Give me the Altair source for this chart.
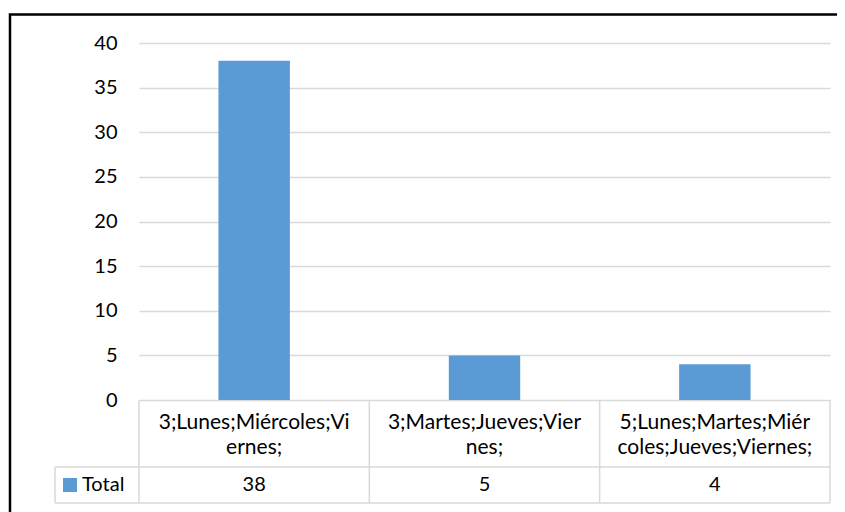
import altair as alt
import pandas as pd

categories = ["3;Lunes;Miércoles;Viernes;", "3;Martes;Jueves;Viernes;",
              "5;Lunes;Martes;Miércoles;Jueves;Viernes;"]
wrapped_labels = ["3;Lunes;Miércoles;Vi\nernes;", "3;Martes;Jueves;Vier\nnes;",
                  "5;Lunes;Martes;Miér\ncoles;Jueves;Viernes;"]
values = [38, 5, 4]
series_name = "Total"
y_ticks = [0, 5, 10, 15, 20, 25, 30, 35, 40]

FONT = "Lato"
FS = 20
BLUE = "#5B9BD5"
GRID = "#d9d9d9"

df = pd.DataFrame({"cat": categories, "label": wrapped_labels, "value": values})
one = alt.Data(values=[{"k": 1}])

xscale = alt.Scale(domain=categories, paddingInner=0, paddingOuter=0)
X = alt.X("cat:N", scale=xscale, axis=None, sort=categories)

bars = alt.Chart(df).mark_bar(width=alt.RelativeBandSize(0.31), color=BLUE).encode(
    x=X,
    y=alt.Y("value:Q", scale=alt.Scale(domain=[0, 40], nice=False),
            axis=alt.Axis(values=y_ticks, title=None, grid=True, gridColor=GRID,
                          gridWidth=1.5, domain=False, ticks=False, labelPadding=22,
                          labelFont=FONT, labelFontSize=FS, labelColor="#000000")),
)

vlines = alt.Chart(df).mark_rule(color=GRID, strokeWidth=1.5).encode(
    x=alt.X("cat:N", scale=xscale, axis=None, sort=categories, bandPosition=0),
    y=alt.value(357), y2=alt.value(460),
)
vline_end = alt.Chart(df).transform_filter(
    alt.datum.cat == categories[-1]
).mark_rule(color=GRID, strokeWidth=1.5).encode(
    x=alt.X("cat:N", scale=xscale, axis=None, sort=categories, bandPosition=1),
    y=alt.value(357), y2=alt.value(460),
)

hline1 = alt.Chart(one).mark_rule(color=GRID, strokeWidth=1.5).encode(
    x=alt.value(-84), x2=alt.value(691), y=alt.value(424))
hline2 = alt.Chart(one).mark_rule(color=GRID, strokeWidth=1.5).encode(
    x=alt.value(-84), x2=alt.value(691), y=alt.value(460))
vleft = alt.Chart(one).mark_rule(color=GRID, strokeWidth=1.5).encode(
    x=alt.value(-84), y=alt.value(424), y2=alt.value(460))

cat_text = alt.Chart(df).mark_text(font=FONT, fontSize=21, color="#000000",
                                   lineBreak="\n", lineHeight=25,
                                   baseline="middle", align="center").encode(
    x=X, y=alt.value(380), text="label:N")

val_text = alt.Chart(df).mark_text(font=FONT, fontSize=FS, color="#000000",
                                   baseline="middle", align="center").encode(
    x=X, y=alt.value(442), text="value:Q")

legend_sw = alt.Chart(one).mark_rect(color=BLUE).encode(
    x=alt.value(-76), x2=alt.value(-62), y=alt.value(435), y2=alt.value(449))
legend_tx = alt.Chart(one).mark_text(font=FONT, fontSize=FS, color="#000000",
                                     align="left", baseline="middle").encode(
    x=alt.value(-57), y=alt.value(442), text=alt.value(series_name))

frame = alt.Chart(one).mark_rect(filled=False, stroke="#000000", strokeWidth=2.5).encode(
    x=alt.value(-129), x2=alt.value(760), y=alt.value(-28.5), y2=alt.value(520))

chart = alt.layer(
    bars, vlines, vline_end, hline1, hline2, vleft, cat_text, val_text,
    legend_sw, legend_tx, frame
).properties(
    width=691, height=357,
    autosize=alt.AutoSizeParams(type="none"),
    padding={"left": 131, "top": 35, "right": 7, "bottom": 112},
).configure(background="white", view=alt.ViewConfig(stroke=None))

chart.save("out.html", embed_options={"renderer": "svg", "actions": False})
